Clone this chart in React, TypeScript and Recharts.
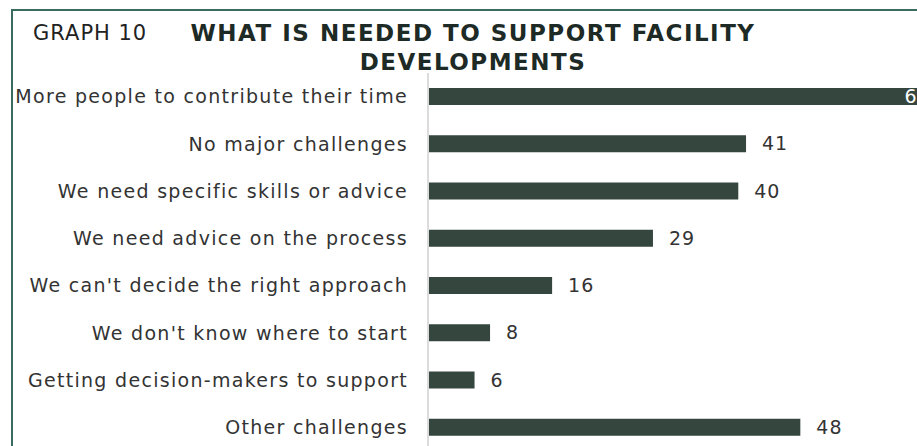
import React from "react"
import { BarChart, Bar, XAxis, YAxis, LabelList } from "recharts"

const categories = [
  "More people to contribute their time",
  "No major challenges",
  "We need specific skills or advice",
  "We need advice on the process",
  "We can't decide the right approach",
  "We don't know where to start",
  "Getting decision-makers to support",
  "Other challenges",
]
const counts = [64, 41, 40, 29, 16, 8, 6, 48]

const FONT = "'DejaVu Sans', sans-serif"
const BAR = "#34463e"

const data = categories.map((name, i) => ({ name, value: counts[i] }))

// the longest bar runs off the frame, its label sits on the bar in white
function ValueLabel(props: any) {
  const { x, y, width, height, value } = props
  const inside = value > 60
  return (
    <text
      x={inside ? x + width - 20 : x + width + 16}
      y={y + height / 2}
      dy="0.35em"
      textAnchor="start"
      fill={inside ? "#ffffff" : "#333333"}
      fontSize={19}
      letterSpacing={1}
      fontFamily={FONT}
    >
      {value}
    </text>
  )
}

export default function App() {
  return (
    <div style={{ position: "fixed", left: 0, top: 0, width: 917, height: 446, overflow: "hidden", background: "#fff" }}>
      <div
        style={{
          position: "absolute",
          left: 11,
          top: 9,
          width: 1000,
          height: 600,
          borderLeft: "2px solid #3b6a5e",
          borderTop: "2px solid #3b6a5e",
        }}
      />
      <div style={{ position: "absolute", left: 33, top: 21, fontFamily: FONT, fontSize: 21, letterSpacing: 1, color: "#222" }}>
        GRAPH 10
      </div>
      <div
        style={{
          position: "absolute",
          left: 173,
          width: 600,
          top: 19,
          textAlign: "center",
          fontFamily: FONT,
          fontWeight: "bold",
          fontSize: 23,
          letterSpacing: 1.5,
          lineHeight: "29px",
          color: "#1e2a25",
        }}
      >
        WHAT IS NEEDED TO SUPPORT FACILITY
        <br />
        DEVELOPMENTS
      </div>
      <div style={{ position: "absolute", left: 0, top: 0 }}>
        <BarChart
          width={971}
          height={460}
          data={data}
          layout="vertical"
          margin={{ top: 73, right: 0, bottom: 9, left: 0 }}
          barSize={17}
        >
          <XAxis type="number" domain={[0, 70]} hide />
          <YAxis
            type="category"
            dataKey="name"
            width={428}
            tickSize={0}
            tickMargin={20}
            tickLine={false}
            axisLine={{ stroke: "#dcdcdc", strokeWidth: 2 }}
            tick={{ fill: "#333333", fontSize: 19, fontFamily: FONT, letterSpacing: 1.3 }}
            interval={0}
          />
          <Bar dataKey="value" fill={BAR} isAnimationActive={false}>
            <LabelList dataKey="value" content={ValueLabel} />
          </Bar>
        </BarChart>
      </div>
    </div>
  )
}
